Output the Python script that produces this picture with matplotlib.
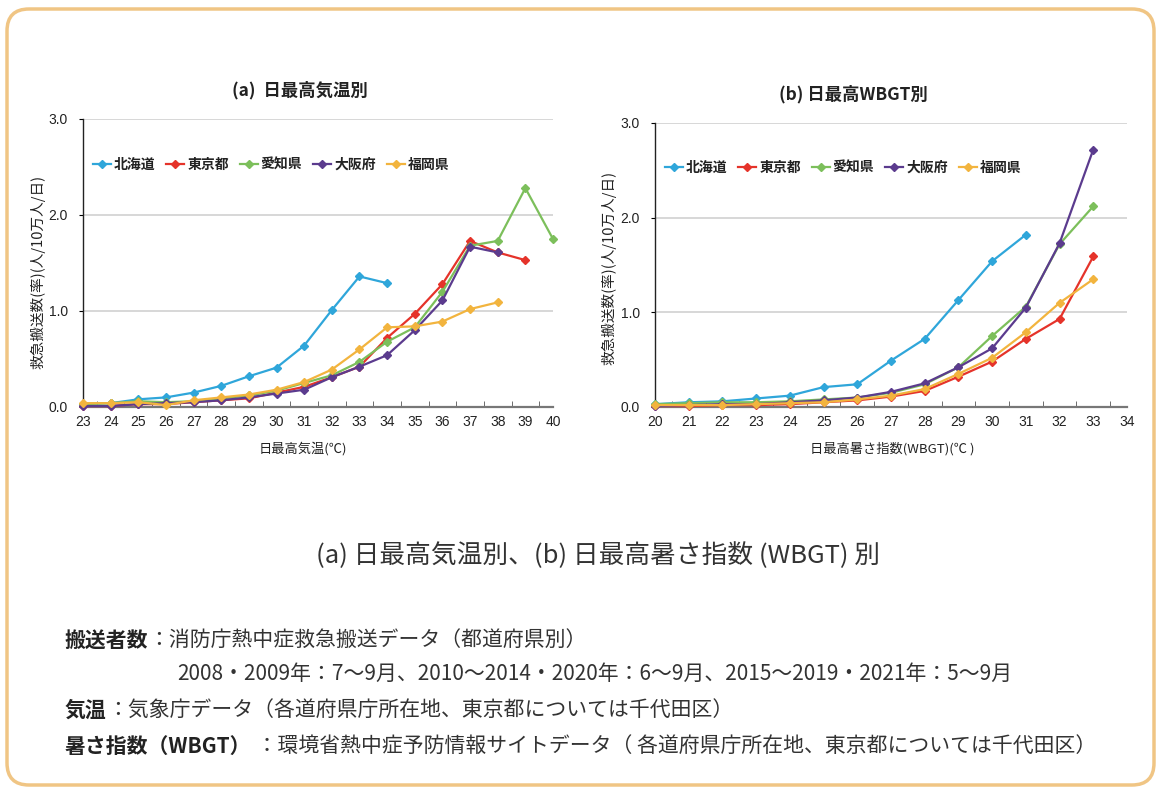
import matplotlib
matplotlib.use("Agg")
import matplotlib.pyplot as plt
from matplotlib.patches import FancyBboxPatch
from matplotlib.ticker import MultipleLocator

plt.rcParams['font.family'] = ['Noto Sans CJK JP', 'DejaVu Sans']

# data
prefs = ['北海道', '東京都', '愛知県', '大阪府', '福岡県']
colors = ['#2FA6DA', '#E5332A', '#7CBF5B', '#5B3B8E', '#F2B43E']

# (a) daily max temperature
temp_x = {
    '北海道': list(range(23, 35)),
    '東京都': list(range(23, 40)),
    '愛知県': list(range(23, 41)),
    '大阪府': list(range(23, 39)),
    '福岡県': list(range(23, 39)),
}
temp_y = {
    '北海道': [0.03, 0.04, 0.08, 0.10, 0.15, 0.22, 0.32, 0.41, 0.64, 1.01, 1.36, 1.29],
    '東京都': [0.01, 0.01, 0.03, 0.03, 0.05, 0.07, 0.09, 0.15, 0.21, 0.31, 0.42, 0.72,
               0.97, 1.28, 1.73, 1.61, 1.53],
    '愛知県': [0.03, 0.04, 0.06, 0.05, 0.06, 0.09, 0.12, 0.17, 0.25, 0.33, 0.47, 0.68,
               0.83, 1.20, 1.68, 1.73, 2.28, 1.75],
    '大阪府': [0.01, 0.01, 0.03, 0.04, 0.05, 0.07, 0.10, 0.14, 0.18, 0.31, 0.42, 0.54,
               0.80, 1.11, 1.67, 1.61],
    '福岡県': [0.04, 0.04, 0.05, 0.02, 0.07, 0.10, 0.13, 0.18, 0.26, 0.39, 0.60, 0.83,
               0.84, 0.89, 1.02, 1.09],
}

# (b) daily max WBGT
wbgt_x = {
    '北海道': list(range(20, 32)),
    '東京都': list(range(20, 34)),
    '愛知県': list(range(20, 34)),
    '大阪府': list(range(20, 34)),
    '福岡県': list(range(20, 34)),
}
wbgt_y = {
    '北海道': [0.03, 0.05, 0.06, 0.09, 0.12, 0.21, 0.24, 0.49, 0.72, 1.13, 1.54, 1.82],
    '東京都': [0.01, 0.01, 0.02, 0.02, 0.03, 0.05, 0.07, 0.11, 0.17, 0.32, 0.48, 0.72,
               0.93, 1.59],
    '愛知県': [0.03, 0.04, 0.05, 0.05, 0.06, 0.08, 0.10, 0.15, 0.24, 0.42, 0.75, 1.06,
               1.72, 2.12],
    '大阪府': [0.01, 0.02, 0.03, 0.03, 0.05, 0.07, 0.10, 0.16, 0.25, 0.42, 0.62, 1.05,
               1.73, 2.72],
    '福岡県': [0.02, 0.02, 0.02, 0.03, 0.04, 0.05, 0.08, 0.12, 0.19, 0.35, 0.52, 0.79,
               1.10, 1.35],
}

W, H = 1159, 790
fig = plt.figure(figsize=(W / 100, H / 100), dpi=100)

# background layer in pixel coords
bg = fig.add_axes([0, 0, 1, 1])
bg.set_xlim(0, W)
bg.set_ylim(H, 0)
bg.axis('off')
bg.add_patch(FancyBboxPatch((7, 9), 1147, 776, boxstyle="round,pad=0,rounding_size=22",
                            fc='white', ec='#F0C584', lw=2.5))


def px_axes(left, top, right, bottom):
    return fig.add_axes([left / W, 1 - bottom / H, (right - left) / W, (bottom - top) / H])


tickfont = ['Liberation Sans Narrow', 'Liberation Sans', 'DejaVu Sans']
ylab = '救急搬送数(率)(人/10万人/日)'


def draw(ax, xs, ys, xmin, xmax):
    for p, c in zip(prefs, colors):
        ax.plot(xs[p], ys[p], color=c, lw=1.6, marker='D', ms=4.5, label=p, clip_on=False,
                zorder=3)
    ax.set_xlim(xmin, xmax)
    ax.set_ylim(0, 3.0)
    ax.set_xticks(range(xmin, xmax + 1))
    ax.xaxis.set_minor_locator(MultipleLocator(0.5))
    ax.set_yticks([0, 1, 2, 3])
    ax.set_yticklabels(['0.0', '1.0', '2.0', '3.0'])
    ax.grid(axis='y', color='#d4d4d4', lw=1.3)
    ax.set_axisbelow(True)
    for s in ['top', 'right']:
        ax.spines[s].set_visible(False)
    ax.spines['left'].set_color('#222222')
    ax.spines['left'].set_linewidth(1.0)
    ax.spines['bottom'].set_color('#777777')
    ax.spines['bottom'].set_linewidth(1.6)
    ax.tick_params(axis='x', which='major', length=0, pad=6)
    ax.tick_params(axis='x', which='minor', length=4, direction='in', color='#555555')
    ax.tick_params(axis='y', length=3, direction='out', pad=8)
    for t in ax.get_xticklabels() + ax.get_yticklabels():
        t.set_family(tickfont)
        t.set_fontsize(10)
        t.set_color('#222222')
    leg = ax.legend(ncol=5, loc='upper left', bbox_to_anchor=(0.0, 0.9), frameon=False,
                    handlelength=1.3, handletextpad=0.2, columnspacing=0.8,
                    borderaxespad=0.3, prop={'size': 10, 'weight': 'bold'})
    for t in leg.get_texts():
        t.set_color('#222222')


ax1 = px_axes(83, 119, 553, 407)
draw(ax1, temp_x, temp_y, 23, 40)
ax2 = px_axes(655, 123, 1127, 407)
draw(ax2, wbgt_x, wbgt_y, 20, 34)

# chart titles and axis labels
bg.text(300, 90, '(a)  日最高気温別', ha='center', va='center', fontsize=12.5,
        fontweight='bold', color='#222222')
bg.text(853, 94, '(b) 日最高WBGT別', ha='center', va='center', fontsize=12.5,
        fontweight='bold', color='#222222')
bg.text(303, 449, '日最高気温(℃)', ha='center', va='center', fontsize=9.5, color='#222222')
bg.text(892, 449, '日最高暑さ指数(WBGT)(℃ )', ha='center', va='center', fontsize=9.5,
        color='#222222')
bg.text(38, 272, ylab, ha='center', va='center', rotation=90, fontsize=10.5, color='#222222')
bg.text(609, 268, ylab, ha='center', va='center', rotation=90, fontsize=10.5, color='#222222')

# caption
bg.text(598, 556, '(a) 日最高気温別、(b) 日最高暑さ指数 (WBGT) 別', ha='center', va='center',
        fontsize=18.5, color='#333333')

# notes
notes = [
    (65, 640, '搬送者数', '：消防庁熱中症救急搬送データ（都道府県別）'),
    (177, 674, '', '2008・2009年：7～9月、2010～2014・2020年：6～9月、2015～2019・2021年：5～9月'),
    (65, 710, '気温', '：気象庁データ（各道府県庁所在地、東京都については千代田区）'),
    (65, 746, '暑さ指数（WBGT）', ' ：環境省熱中症予防情報サイトデータ（ 各道府県庁所在地、東京都については千代田区）'),
]
for x, y, head, body in notes:
    if head:
        h = bg.text(x, y, head, ha='left', va='center', fontsize=15, fontweight='bold',
                    color='#222222')
        bg.annotate(body, xy=(1, 0.5), xycoords=h, ha='left', va='center', fontsize=15,
                    color='#333333')
    else:
        bg.text(x, y, body, ha='left', va='center', fontsize=15, color='#333333')

fig.savefig('out.png', dpi=100)
